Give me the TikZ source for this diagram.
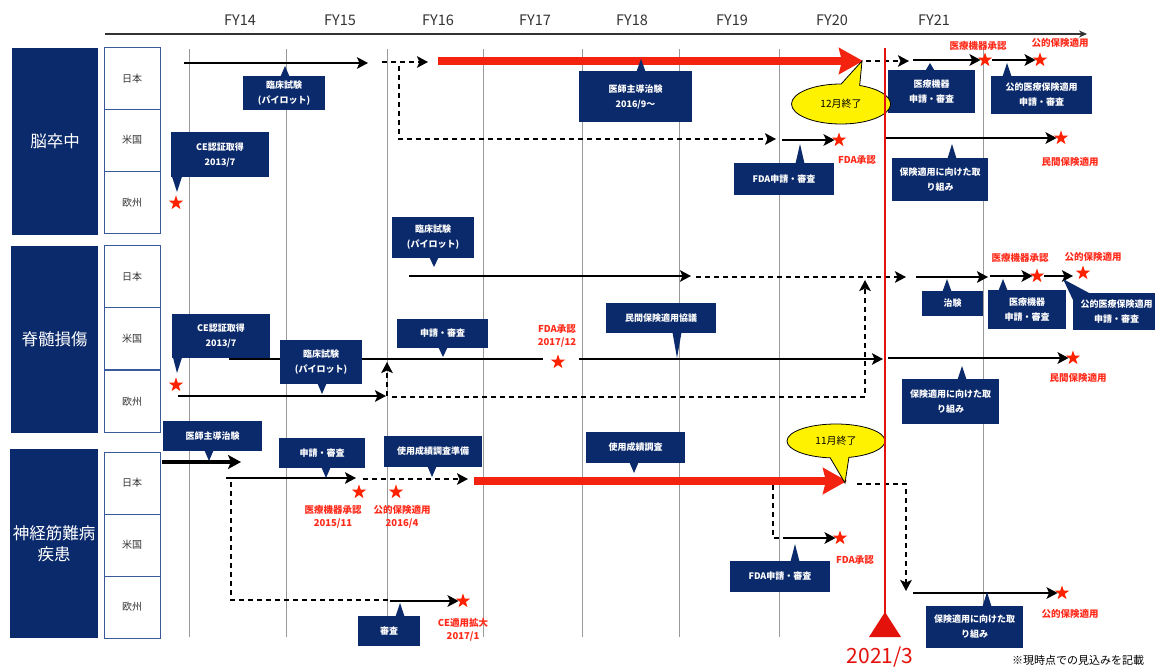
\documentclass[tikz,border=0pt]{standalone}
\usepackage{fontspec}
\setmainfont{Noto Sans CJK JP}
\usetikzlibrary{arrows.meta,shapes.geometric,shapes.callouts}
\definecolor{navy}{HTML}{0B2A6B}
\definecolor{subb}{HTML}{3A5A9A}
\definecolor{barred}{HTML}{F4230F}
\definecolor{starred}{HTML}{FF2200}
\definecolor{labred}{HTML}{FF2A1A}
\definecolor{vred}{HTML}{E3120B}
\definecolor{axis}{HTML}{333333}
\definecolor{gridc}{HTML}{9A9A9A}
\tikzset{
  nbox/.style={fill=navy, text=white, font=\bfseries\fontsize{9}{15}\selectfont, align=center, inner sep=0pt},
  cat/.style={fill=navy, text=white, font=\fontsize{16.5}{21}\selectfont, align=center, inner sep=0pt},
  subbox/.style={draw=subb, line width=0.8pt, fill=white, text=axis, font=\fontsize{10}{12}\selectfont, minimum width=56pt, minimum height=62pt, inner sep=0pt},
  arr/.style={line width=2.8pt, -{Stealth[length=11pt,width=11.5pt,inset=2.5pt]}},
  darr/.style={arr, dash pattern=on 5pt off 4pt},
  dline/.style={line width=2.8pt, dash pattern=on 5pt off 4pt},
  plainl/.style={line width=2.8pt},
  bigarr/.style={line width=4pt, -{Stealth[length=13pt,width=14pt,inset=3pt]}},
  redbar/.style={line width=7.5pt, draw=barred, -{Stealth[length=24pt,width=26pt,inset=3pt]}},
  rlab/.style={text=labred, font=\bfseries\fontsize{9.5}{13}\selectfont, align=center, inner sep=0pt},
  gridl/.style={draw=gridc, line width=0.9pt},
  st/.style={star, star points=5, star point ratio=2.5, fill=starred, inner sep=0pt, minimum size=15pt},
  fy/.style={text=axis, font=\fontsize{14.5}{16}\selectfont, inner sep=0pt},
  bubble/.style={ellipse callout, draw=black, line width=0.8pt, fill=yellow, callout pointer arc=22, font=\fontsize{10}{12}\selectfont, inner sep=0pt},
}
\newcommand{\nbx}[6]{\node[nbox, minimum width={(#4-#2)*1pt}, minimum height={(#5-#3)*1pt}] (#1) at ({(#2+#4)/2},{(#3+#5)/2}) {#6};}
\newcommand{\ptr}[3]{\fill[navy] ({#1-4.5},{#3}) -- (#1,#2) -- ({#1+4.5},{#3}) -- cycle;}
\begin{document}
\begin{tikzpicture}[x=1pt,y=-1pt]
\useasboundingbox (0,0) rectangle (1155,668);
\fill[white] (0,0) rectangle (1155,668);
% axis
\coordinate (ax0) at (105,34);
\coordinate (ax1) at (1087,34);
\draw[line width=1.8pt, draw=axis, -{Stealth[length=8pt,width=7pt]}] (ax0) -- (ax1);
\foreach \x/\l in {240/FY14,340/FY15,438/FY16,535/FY17,632/FY18,732/FY19,832/FY20,934/FY21}
  \node[fy] (lab\l) at (\x,20) {\l};
% grid
\foreach \x [count=\i] in {189,286,387,483,582,679,779,983} {
  \coordinate (gt\i) at (\x,49);
  \coordinate (gb\i) at (\x,637);
  \draw[gridl] (gt\i) -- (gb\i);
}
% categories
\node[cat, minimum width=86pt, minimum height=187pt] (c1) at (55,141.5) {脳卒中};
\node[cat, minimum width=87pt, minimum height=187pt] (c2) at (54.5,339.5) {脊髄損傷};
\node[cat, minimum width=88pt, minimum height=189pt] (c3) at (54,543.5) {神経筋難病\\疾患};
\node[subbox] (r1a) at (132,78.5) {日本};
\node[subbox] (r1b) at (132,140) {米国};
\node[subbox] (r1c) at (132,202.5) {欧州};
\node[subbox] (r2a) at (132,276.5) {日本};
\node[subbox] (r2b) at (132,338.5) {米国};
\node[subbox] (r2c) at (132,401.5) {欧州};
\node[subbox] (r3a) at (132,483) {日本};
\node[subbox] (r3b) at (132,545) {米国};
\node[subbox] (r3c) at (132,607) {欧州};

% ================= Row 1 =================
\draw[arr] (184,63) -- (368,63);
\draw[darr] (382,62) -- (428,62);
\draw[darr] (399,66) -- (399,139) -- (776,139);
\draw[redbar] (438,61) -- (863,61);
\draw[darr] (866,61) -- (909,61);
\node[st] (s11) at (985,60) {};
\node[st] (s12) at (1040,60) {};
\draw[arr] (913,60) -- (s11.west);
\draw[arr] (992,60) -- (s12.west);
\node[rlab] (l11) at (978,46) {医療機器承認};
\node[rlab] (l12) at (1060,43) {公的保険適用};
\nbx{b11}{243}{76}{325}{110}{臨床試験\\(パイロット)}\ptr{285}{66}{76.5}
\nbx{b12}{171}{132}{269}{177}{CE認証取得\\2013/7}
\fill[navy] (172,176.5) -- (177,192) -- (182,176.5) -- cycle;
\nbx{b13}{579}{71}{692}{122}{医師主導治験\\2016/9〜}\ptr{641}{59}{71.5}
\nbx{b14}{734}{163}{834}{195}{FDA申請・審査}\ptr{800}{144}{163.5}
\nbx{b15}{888}{70}{975}{113}{医療機器\\申請・審査}\ptr{930}{63}{70.5}
\nbx{b16}{991}{76}{1092}{114}{公的医療保険適用\\申請・審査}\ptr{1007}{63}{76.5}
\nbx{b17}{892}{158}{988}{201}{保険適用に向けた取\\り組み}\ptr{952}{144}{158.5}
\node[st] (s13) at (176,203) {};
\node[st] (s14) at (839,140) {};
\draw[arr] (782,140) -- (s14.west);
\node[rlab] (l14) at (857,160) {FDA承認};
\node[st] (s15) at (1061,138) {};
\coordinate (r1us) at (885,138);
\draw[arr] (r1us) -- (s15.west);
\node[rlab] (l15) at (1070,162) {民間保険適用};
\node[bubble, minimum width=99pt, minimum height=40pt, callout absolute pointer={(862,61)}] (e1) at (841,104) {12月終了};

% ================= Row 2 =================
\nbx{b21}{392}{217}{474}{258}{臨床試験\\(パイロット)}\ptr{434}{267}{257.5}
\draw[arr] (409,276) -- (691,276);
\draw[darr] (696,277) -- (906,277);
\node[st] (s21) at (1037,276) {};
\node[st] (s22) at (1083,273) {};
\draw[arr] (916,277) -- (988,277);
\draw[arr] (990,276) -- (s21.west);
\draw[arr] (1044,276) -- (1073,276);
\node[rlab] (l21) at (1020,258) {医療機器承認};
\node[rlab] (l22) at (1093,257) {公的保険適用};
\nbx{b22}{922}{291}{983}{316}{治験}\ptr{947}{279}{291.5}
\nbx{b23}{988}{290}{1066}{329}{医療機器\\申請・審査}\ptr{1003}{279}{290.5}
\nbx{b24}{1073}{293}{1160}{330}{公的医療保険適用\\申請・審査}
\fill[navy] (1063,279) -- (1090,293.5) -- (1073,300) -- cycle;
% US
\node[st] (s23) at (558,362) {};
\draw[plainl] (229,359) -- (543,359);
\draw[arr] (579,359) -- (883,359);
\node[st] (s24) at (1073,358) {};
\draw[arr] (888,358) -- (s24.west);
\node[rlab] (l23) at (557,335.5) {FDA承認\\2017/12};
\node[rlab] (l24) at (1078,378) {民間保険適用};
\nbx{b25}{397}{319}{488}{348}{申請・審査}\ptr{443}{357}{347.5}
\nbx{b26}{606}{303}{716}{333}{民間保険適用協議}\ptr{677}{358}{332.5}
\nbx{b27}{172}{314}{270}{358}{CE認証取得\\2013/7}
\fill[navy] (173,357.5) -- (177,373) -- (182,357.5) -- cycle;
\nbx{b28}{280}{340}{362}{384}{臨床試験\\(パイロット)}\ptr{322}{394}{383.5}
\nbx{b29}{902}{379}{999}{424}{保険適用に向けた取\\り組み}\ptr{962}{366}{379.5}
% Europe
\node[st] (s25) at (176,385) {};
\draw[arr] (178,396) -- (386,396);
\draw[darr] (387,396) -- (387,362);
\draw[darr] (392,397) -- (865,397) -- (865,280);

% ================= Row 3 =================
\nbx{b31}{163}{421}{262}{451}{医師主導治験}\ptr{209}{461}{450.5}
\draw[bigarr] (162,462) -- (241,462);
\draw[arr] (226,478) -- (356,478);
\draw[darr] (363,479) -- (468,479);
\draw[redbar] (474,481) -- (847,481);
\draw[dline] (231,482) -- (231,600) -- (390,600);
\node[st] (s31) at (463,601) {};
\draw[arr] (390,601) -- (s31.west);
\node[rlab] (l31) at (463,630) {CE適用拡大\\2017/1};
\node[st] (s32) at (359,492) {};
\node[st] (s33) at (396,492) {};
\node[rlab] (l32) at (333,516.5) {医療機器承認\\2015/11};
\node[rlab] (l33) at (402,516.5) {公的保険適用\\2016/4};
\nbx{b32}{279}{438}{365}{468}{申請・審査}\ptr{326}{478}{467.5}
\nbx{b33}{384}{436}{482}{467}{使用成績調査準備}\ptr{432}{477}{466.5}
\nbx{b34}{586}{432}{685}{463}{使用成績調査}\ptr{634}{473}{462.5}
\nbx{b35}{358}{616}{420}{646}{審査}\ptr{400}{603}{616.5}
\node[bubble, minimum width=98pt, minimum height=34pt, callout absolute pointer={(845,483)}] (e2) at (836,441) {11月終了};
\draw[dline] (773,485) -- (773,538) -- (787,538);
\node[st] (s34) at (840,538) {};
\draw[arr] (787,538) -- (s34.west);
\node[rlab] (l34) at (855,560) {FDA承認};
\nbx{b36}{730}{561}{830}{592}{FDA申請・審査}\ptr{795}{544}{561.5}
\draw[darr] (857,484) -- (906,484) -- (906,591);
\node[st] (s35) at (1062,593) {};
\draw[arr] (913,593) -- (s35.west);
\node[rlab] (l35) at (1070,614) {公的保険適用};
\nbx{b37}{926}{606}{1023}{648}{保険適用に向けた取\\り組み}\ptr{987}{592}{606.5}

% red current line
\coordinate (rt) at (885,48);
\coordinate (rb) at (885,614);
\draw[vred, line width=2.2pt] (rt) -- (rb);
\fill[vred] (869,637) -- (885,612) -- (901,637) -- cycle;
\node[text=vred, font=\fontsize{21}{24}\selectfont, inner sep=0pt] (now) at (880,657) {2021/3};
\node[text=black, font=\fontsize{11}{13}\selectfont, inner sep=0pt] (note) at (1078,660) {※現時点での見込みを記載};
\end{tikzpicture}
\end{document}
